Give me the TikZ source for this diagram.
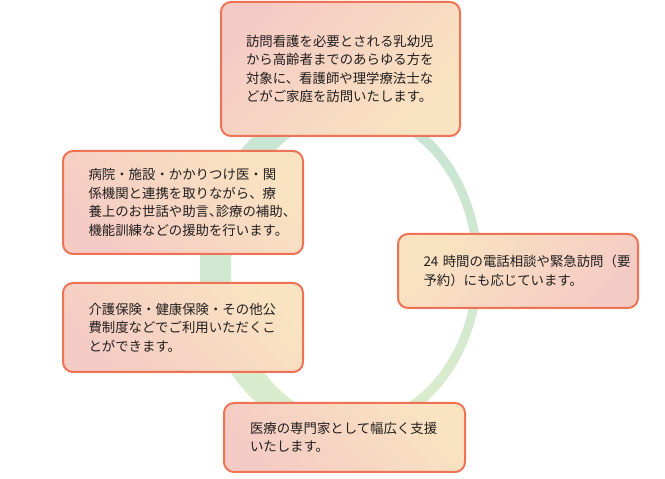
\documentclass[tikz,border=0pt]{standalone}
\usepackage{fontspec}
\setmainfont{Noto Sans CJK JP}
\usepackage{tikz}
\usetikzlibrary{positioning}
\definecolor{edgeorange}{RGB}{238,114,84}
\definecolor{boxpink}{RGB}{244,203,196}
\definecolor{boxpeach}{RGB}{249,227,193}
\definecolor{ringtop}{RGB}{199,228,212}
\definecolor{ringbot}{RGB}{219,236,204}
\definecolor{inktext}{RGB}{34,30,30}
\tikzset{
  infobox/.style={draw=edgeorange, line width=2pt, rounded corners=10pt,
    align=left, text width=189pt, inner xsep=25pt, inner ysep=4pt,
    text=inktext, font=\fontsize{13.4}{18.5}\selectfont},
  pinktopleft/.style={top color=boxpink, bottom color=boxpeach, shading angle=45},
  pinkleft/.style={top color=boxpink, bottom color=boxpeach, shading angle=135},
  peachleft/.style={top color=boxpeach, bottom color=boxpink, shading angle=45},
}
\newcommand{\halfcomma}{{\addfontfeature{CharacterWidth=AlternateHalf}、}}

\begin{document}
\begin{tikzpicture}[x=1pt, y=1pt]
\useasboundingbox (0,0) rectangle (665,479);

%% Ring behind the boxes
\shade[top color=ringtop, bottom color=ringbot, even odd rule]
  (341,211) ellipse [x radius=141pt, y radius=168pt]
  (352,211) ellipse [x radius=121pt, y radius=152pt];

%% Boxes
\node[infobox, pinktopleft, minimum width=239pt, minimum height=134pt]
  (visit) at (340.5,410) {訪問看護を必要とされる乳幼児\\から高齢者までのあらゆる方を\\対象に、看護師や理学療法士な\\どがご家庭を訪問いたします。};

\node[infobox, pinkleft, minimum width=240pt, minimum height=103pt]
  (liaison) at (183,276.5) {病院・施設・かかりつけ医・関\\係機関と連携を取りながら、療\\養上のお世話や助言\halfcomma 診療の補助\halfcomma\\機能訓練などの援助を行います。};

\node[infobox, peachleft, minimum width=240pt, minimum height=74pt]
  (hotline) at (518,208) {24~時間の電話相談や緊急訪問（要\\予約）にも応じています。};

\node[infobox, pinkleft, minimum width=240pt, minimum height=89pt]
  (insurance) at (183,151.5) {介護保険・健康保険・その他公\\費制度などでご利用いただくこ\\とができます。};

\node[infobox, pinkleft, minimum width=241pt, minimum height=69pt]
  (support) at (344.5,41.5) {医療の専門家として幅広く支援\\いたします。};

\end{tikzpicture}
\end{document}
